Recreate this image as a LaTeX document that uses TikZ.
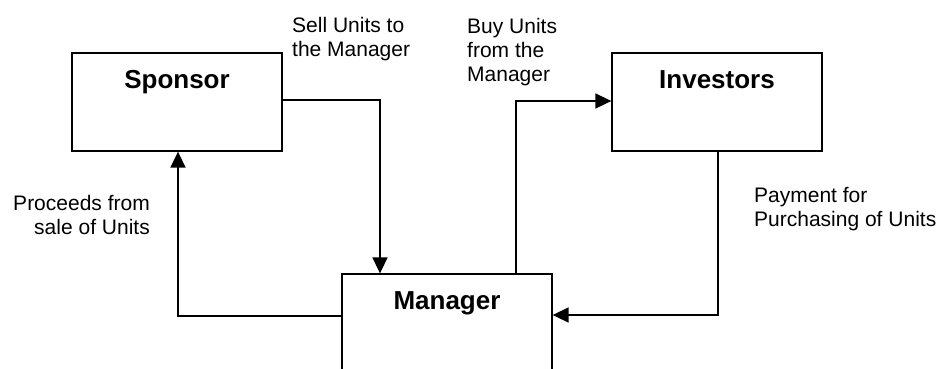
\documentclass[tikz,border=0pt]{standalone}
\usepackage{fontspec}
\setmainfont{Liberation Sans}
\usetikzlibrary{arrows.meta,calc}
\tikzset{
  box/.style={draw=black, line width=1.3pt, minimum width=210pt, inner sep=0pt},
  title/.style={font=\fontsize{26}{30}\selectfont\bfseries, inner sep=0pt, anchor=base},
  lbl/.style={font=\fontsize{21}{24}\selectfont, inner sep=0pt},
  conn/.style={line width=1.6pt, -{Triangle[length=16pt,width=15pt]}},
}
\begin{document}
\begin{tikzpicture}[x=1pt,y=-1pt]
\useasboundingbox (0,0) rectangle (943,368);
\clip (0,0) rectangle (943,368);
\fill[white] (0,0) rectangle (943,368);
% boxes
\node[box, minimum height=98pt] (sponsor) at (177,102) {};
\node[box, minimum height=98pt] (investors) at (717,102) {};
\node[box, minimum height=200pt] (manager) at (447,374) {};
% titles
\node[title] (tsponsor) at ($(sponsor.north)+(0,36)$) {Sponsor};
\node[title] (tinvestors) at ($(investors.north)+(0,36)$) {Investors};
\node[title] (tmanager) at ($(manager.north)+(0,36)$) {Manager};
% corner coordinates
\coordinate (c1) at (380,100);
\coordinate (c2) at (178,316);
\coordinate (c3) at (516,101);
\coordinate (c4) at (718,315);
% connectors
\draw[conn] (sponsor.east |- c1) -- (c1) -- (c1 |- manager.north);
\draw[conn] (manager.west |- c2) -- (c2) -- (c2 |- sponsor.south);
\draw[conn] (c3 |- manager.north) -- (c3) -- (investors.west |- c3);
\draw[conn] (c4 |- investors.south) -- (c4) -- (manager.east |- c4);
% labels
\node[lbl, anchor=north west, align=left] (lsell) at (292,17) {Sell Units to\\the Manager};
\node[lbl, anchor=north west, align=left] (lbuy) at (467,18) {Buy Units\\from the\\Manager};
\node[lbl, anchor=north east, align=right] (lproc) at (150,195) {Proceeds from\\sale of Units};
\node[lbl, anchor=north west, align=left] (lpay) at (754,187) {Payment for\\Purchasing of Units};
\end{tikzpicture}
\end{document}
